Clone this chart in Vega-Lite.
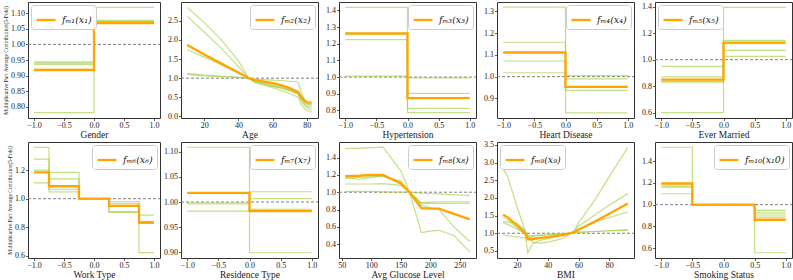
{
  "$schema": "https://vega.github.io/schema/vega-lite/v6.json",
  "background": "white",
  "padding": {"left": 3, "top": 1, "right": 0, "bottom": 0},
  "config": {
    "view": {"stroke": "#333", "strokeWidth": 1},
    "font": "Liberation Serif",
    "axis": {"grid": false, "domain": false, "tickColor": "#333", "tickSize": 2.5, "tickWidth": 0.8,
      "labelFont": "Liberation Serif", "labelFontSize": 8, "labelColor": "#222", "labelPadding": 1,
      "labelOverlap": false, "labelFlush": false,
      "titleFont": "Liberation Serif", "titleFontSize": 9.5, "titleFontWeight": "normal", "titleColor": "#222", "titlePadding": 0},
    "legend": {"symbolType": "stroke", "symbolSize": 361, "symbolStrokeWidth": 2.3,
      "labelFont": "DejaVu Serif", "labelFontStyle": "italic", "labelFontSize": 9.5, "labelColor": "#222",
      "strokeColor": "#cccccc", "fillColor": "rgba(255,255,255,0.85)", "cornerRadius": 3, "padding": 4, "offset": 3, "labelOffset": 5}
  },
  "data": {"values": [
    {"p":1,"f":"mean","x":-1,"y":0.918},{"p":1,"f":"mean","x":0,"y":1.068},{"p":1,"f":"mean","x":1,"y":1.068},
    {"p":1,"f":"g1","x":-1,"y":0.781},{"p":1,"f":"g1","x":0,"y":1.119},{"p":1,"f":"g1","x":1,"y":1.119},
    {"p":1,"f":"g2","x":-1,"y":0.944},{"p":1,"f":"g2","x":0,"y":1.077},{"p":1,"f":"g2","x":1,"y":1.077},
    {"p":1,"f":"g3","x":-1,"y":0.940},{"p":1,"f":"g3","x":0,"y":1.074},{"p":1,"f":"g3","x":1,"y":1.074},
    {"p":1,"f":"g4","x":-1,"y":0.936},{"p":1,"f":"g4","x":0,"y":1.072},{"p":1,"f":"g4","x":1,"y":1.072},
    {"p":1,"f":"g5","x":-1,"y":0.920},{"p":1,"f":"g5","x":0,"y":1.070},{"p":1,"f":"g5","x":1,"y":1.070},

    {"p":2,"f":"mean","x":10,"y":1.87},{"p":2,"f":"mean","x":20,"y":1.62},{"p":2,"f":"mean","x":30,"y":1.38},{"p":2,"f":"mean","x":40,"y":1.15},{"p":2,"f":"mean","x":46,"y":1.0},{"p":2,"f":"mean","x":50,"y":0.95},{"p":2,"f":"mean","x":60,"y":0.87},{"p":2,"f":"mean","x":65,"y":0.82},{"p":2,"f":"mean","x":70,"y":0.74},{"p":2,"f":"mean","x":75,"y":0.64},{"p":2,"f":"mean","x":77,"y":0.5},{"p":2,"f":"mean","x":79,"y":0.4},{"p":2,"f":"mean","x":81,"y":0.36},{"p":2,"f":"mean","x":83,"y":0.36},
    {"p":2,"f":"g1","x":10,"y":2.85},{"p":2,"f":"g1","x":20,"y":2.45},{"p":2,"f":"g1","x":30,"y":2.0},{"p":2,"f":"g1","x":40,"y":1.45},{"p":2,"f":"g1","x":46,"y":1.0},{"p":2,"f":"g1","x":50,"y":0.88},{"p":2,"f":"g1","x":60,"y":0.75},{"p":2,"f":"g1","x":65,"y":0.68},{"p":2,"f":"g1","x":70,"y":0.6},{"p":2,"f":"g1","x":75,"y":0.5},{"p":2,"f":"g1","x":77,"y":0.3},{"p":2,"f":"g1","x":79,"y":0.2},{"p":2,"f":"g1","x":81,"y":0.13},{"p":2,"f":"g1","x":83,"y":0.12},
    {"p":2,"f":"g2","x":10,"y":2.62},{"p":2,"f":"g2","x":20,"y":2.2},{"p":2,"f":"g2","x":30,"y":1.78},{"p":2,"f":"g2","x":40,"y":1.3},{"p":2,"f":"g2","x":46,"y":1.0},{"p":2,"f":"g2","x":50,"y":0.9},{"p":2,"f":"g2","x":60,"y":0.8},{"p":2,"f":"g2","x":65,"y":0.75},{"p":2,"f":"g2","x":70,"y":0.68},{"p":2,"f":"g2","x":75,"y":0.58},{"p":2,"f":"g2","x":77,"y":0.4},{"p":2,"f":"g2","x":79,"y":0.28},{"p":2,"f":"g2","x":81,"y":0.2},{"p":2,"f":"g2","x":83,"y":0.18},
    {"p":2,"f":"g3","x":10,"y":1.75},{"p":2,"f":"g3","x":20,"y":1.55},{"p":2,"f":"g3","x":30,"y":1.35},{"p":2,"f":"g3","x":40,"y":1.13},{"p":2,"f":"g3","x":46,"y":1.0},{"p":2,"f":"g3","x":50,"y":0.93},{"p":2,"f":"g3","x":60,"y":0.82},{"p":2,"f":"g3","x":65,"y":0.78},{"p":2,"f":"g3","x":70,"y":0.7},{"p":2,"f":"g3","x":75,"y":0.6},{"p":2,"f":"g3","x":77,"y":0.45},{"p":2,"f":"g3","x":79,"y":0.32},{"p":2,"f":"g3","x":81,"y":0.25},{"p":2,"f":"g3","x":83,"y":0.24},
    {"p":2,"f":"g4","x":10,"y":1.12},{"p":2,"f":"g4","x":20,"y":1.08},{"p":2,"f":"g4","x":30,"y":1.05},{"p":2,"f":"g4","x":40,"y":1.02},{"p":2,"f":"g4","x":46,"y":1.0},{"p":2,"f":"g4","x":50,"y":0.97},{"p":2,"f":"g4","x":60,"y":0.95},{"p":2,"f":"g4","x":65,"y":0.94},{"p":2,"f":"g4","x":70,"y":0.92},{"p":2,"f":"g4","x":75,"y":0.9},{"p":2,"f":"g4","x":77,"y":0.6},{"p":2,"f":"g4","x":79,"y":0.42},{"p":2,"f":"g4","x":81,"y":0.3},{"p":2,"f":"g4","x":83,"y":0.3},
    {"p":2,"f":"g5","x":10,"y":1.1},{"p":2,"f":"g5","x":20,"y":1.06},{"p":2,"f":"g5","x":30,"y":1.04},{"p":2,"f":"g5","x":40,"y":1.02},{"p":2,"f":"g5","x":46,"y":1.0},{"p":2,"f":"g5","x":50,"y":0.9},{"p":2,"f":"g5","x":60,"y":0.78},{"p":2,"f":"g5","x":65,"y":0.74},{"p":2,"f":"g5","x":70,"y":0.68},{"p":2,"f":"g5","x":75,"y":0.6},{"p":2,"f":"g5","x":77,"y":0.45},{"p":2,"f":"g5","x":79,"y":0.35},{"p":2,"f":"g5","x":81,"y":0.32},{"p":2,"f":"g5","x":83,"y":0.3},

    {"p":3,"f":"mean","x":-1,"y":1.262},{"p":3,"f":"mean","x":0,"y":0.874},{"p":3,"f":"mean","x":1,"y":0.874},
    {"p":3,"f":"g1","x":-1,"y":1.418},{"p":3,"f":"g1","x":0,"y":0.787},{"p":3,"f":"g1","x":1,"y":0.787},
    {"p":3,"f":"g2","x":-1,"y":1.254},{"p":3,"f":"g2","x":0,"y":0.813},{"p":3,"f":"g2","x":1,"y":0.813},
    {"p":3,"f":"g3","x":-1,"y":1.225},{"p":3,"f":"g3","x":0,"y":0.874},{"p":3,"f":"g3","x":1,"y":0.874},
    {"p":3,"f":"g4","x":-1,"y":1.006},{"p":3,"f":"g4","x":0,"y":0.996},{"p":3,"f":"g4","x":1,"y":0.996},
    {"p":3,"f":"g5","x":-1,"y":1.262},{"p":3,"f":"g5","x":0,"y":0.903},{"p":3,"f":"g5","x":1,"y":0.903},

    {"p":4,"f":"mean","x":-1,"y":1.111},{"p":4,"f":"mean","x":0,"y":0.953},{"p":4,"f":"mean","x":1,"y":0.953},
    {"p":4,"f":"g1","x":-1,"y":1.319},{"p":4,"f":"g1","x":0,"y":0.834},{"p":4,"f":"g1","x":1,"y":0.834},
    {"p":4,"f":"g2","x":-1,"y":1.158},{"p":4,"f":"g2","x":0,"y":0.937},{"p":4,"f":"g2","x":1,"y":0.937},
    {"p":4,"f":"g3","x":-1,"y":1.072},{"p":4,"f":"g3","x":0,"y":0.953},{"p":4,"f":"g3","x":1,"y":0.953},
    {"p":4,"f":"g4","x":-1,"y":1.018},{"p":4,"f":"g4","x":0,"y":0.990},{"p":4,"f":"g4","x":1,"y":0.990},
    {"p":4,"f":"g5","x":-1,"y":1.111},{"p":4,"f":"g5","x":0,"y":1.005},{"p":4,"f":"g5","x":1,"y":1.005},

    {"p":5,"f":"mean","x":-1,"y":0.85},{"p":5,"f":"mean","x":0,"y":1.128},{"p":5,"f":"mean","x":1,"y":1.128},
    {"p":5,"f":"g1","x":-1,"y":0.60},{"p":5,"f":"g1","x":0,"y":1.395},{"p":5,"f":"g1","x":1,"y":1.395},
    {"p":5,"f":"g2","x":-1,"y":0.95},{"p":5,"f":"g2","x":0,"y":1.025},{"p":5,"f":"g2","x":1,"y":1.025},
    {"p":5,"f":"g3","x":-1,"y":0.87},{"p":5,"f":"g3","x":0,"y":1.07},{"p":5,"f":"g3","x":1,"y":1.07},
    {"p":5,"f":"g4","x":-1,"y":0.838},{"p":5,"f":"g4","x":0,"y":1.145},{"p":5,"f":"g4","x":1,"y":1.145},
    {"p":5,"f":"g5","x":-1,"y":0.83},{"p":5,"f":"g5","x":0,"y":1.12},{"p":5,"f":"g5","x":1,"y":1.12},

    {"p":6,"f":"mean","x":-1,"y":1.184},{"p":6,"f":"mean","x":-0.75,"y":1.087},{"p":6,"f":"mean","x":-0.25,"y":1.0},{"p":6,"f":"mean","x":0.25,"y":0.95},{"p":6,"f":"mean","x":0.75,"y":0.834},{"p":6,"f":"mean","x":1,"y":0.834},
    {"p":6,"f":"g1","x":-1,"y":1.359},{"p":6,"f":"g1","x":-0.75,"y":1.138},{"p":6,"f":"g1","x":-0.25,"y":1.0},{"p":6,"f":"g1","x":0.25,"y":0.91},{"p":6,"f":"g1","x":0.75,"y":0.623},{"p":6,"f":"g1","x":1,"y":0.623},
    {"p":6,"f":"g2","x":-1,"y":1.276},{"p":6,"f":"g2","x":-0.75,"y":1.184},{"p":6,"f":"g2","x":-0.25,"y":1.0},{"p":6,"f":"g2","x":0.25,"y":0.98},{"p":6,"f":"g2","x":0.75,"y":0.885},{"p":6,"f":"g2","x":1,"y":0.885},
    {"p":6,"f":"g3","x":-1,"y":1.184},{"p":6,"f":"g3","x":-0.75,"y":1.065},{"p":6,"f":"g3","x":-0.25,"y":1.0},{"p":6,"f":"g3","x":0.25,"y":0.966},{"p":6,"f":"g3","x":0.75,"y":0.84},{"p":6,"f":"g3","x":1,"y":0.84},
    {"p":6,"f":"g4","x":-1,"y":1.11},{"p":6,"f":"g4","x":-0.75,"y":1.048},{"p":6,"f":"g4","x":-0.25,"y":1.0},{"p":6,"f":"g4","x":0.25,"y":0.905},{"p":6,"f":"g4","x":0.75,"y":0.828},{"p":6,"f":"g4","x":1,"y":0.828},
    {"p":6,"f":"g5","x":-1,"y":1.2},{"p":6,"f":"g5","x":-0.75,"y":1.09},{"p":6,"f":"g5","x":-0.25,"y":1.0},{"p":6,"f":"g5","x":0.25,"y":0.95},{"p":6,"f":"g5","x":0.75,"y":0.834},{"p":6,"f":"g5","x":1,"y":0.834},

    {"p":7,"f":"mean","x":-1,"y":1.018},{"p":7,"f":"mean","x":0,"y":0.982},{"p":7,"f":"mean","x":1,"y":0.982},
    {"p":7,"f":"g1","x":-1,"y":1.109},{"p":7,"f":"g1","x":0,"y":0.899},{"p":7,"f":"g1","x":1,"y":0.899},
    {"p":7,"f":"g2","x":-1,"y":0.998},{"p":7,"f":"g2","x":0,"y":1.0204},{"p":7,"f":"g2","x":1,"y":1.0204},
    {"p":7,"f":"g3","x":-1,"y":0.996},{"p":7,"f":"g3","x":0,"y":1.0066},{"p":7,"f":"g3","x":1,"y":1.0066},
    {"p":7,"f":"g4","x":-1,"y":0.982},{"p":7,"f":"g4","x":0,"y":0.9855},{"p":7,"f":"g4","x":1,"y":0.9855},
    {"p":7,"f":"g5","x":-1,"y":1.018},{"p":7,"f":"g5","x":0,"y":0.982},{"p":7,"f":"g5","x":1,"y":0.982},

    {"p":8,"f":"mean","x":56,"y":1.185},{"p":8,"f":"mean","x":80,"y":1.19},{"p":8,"f":"mean","x":100,"y":1.2},{"p":8,"f":"mean","x":120,"y":1.2},{"p":8,"f":"mean","x":150,"y":1.1},{"p":8,"f":"mean","x":165,"y":1.0},{"p":8,"f":"mean","x":185,"y":0.817},{"p":8,"f":"mean","x":200,"y":0.81},{"p":8,"f":"mean","x":215,"y":0.81},{"p":8,"f":"mean","x":240,"y":0.75},{"p":8,"f":"mean","x":267,"y":0.687},
    {"p":8,"f":"g1","x":56,"y":1.504},{"p":8,"f":"g1","x":80,"y":1.51},{"p":8,"f":"g1","x":100,"y":1.515},{"p":8,"f":"g1","x":120,"y":1.52},{"p":8,"f":"g1","x":150,"y":1.25},{"p":8,"f":"g1","x":165,"y":1.0},{"p":8,"f":"g1","x":185,"y":0.534},{"p":8,"f":"g1","x":200,"y":0.55},{"p":8,"f":"g1","x":215,"y":0.56},{"p":8,"f":"g1","x":240,"y":0.5},{"p":8,"f":"g1","x":267,"y":0.31},
    {"p":8,"f":"g2","x":56,"y":1.17},{"p":8,"f":"g2","x":80,"y":1.15},{"p":8,"f":"g2","x":100,"y":1.17},{"p":8,"f":"g2","x":120,"y":1.19},{"p":8,"f":"g2","x":150,"y":1.12},{"p":8,"f":"g2","x":165,"y":1.0},{"p":8,"f":"g2","x":185,"y":0.85},{"p":8,"f":"g2","x":200,"y":0.82},{"p":8,"f":"g2","x":215,"y":0.8},{"p":8,"f":"g2","x":240,"y":0.6},{"p":8,"f":"g2","x":267,"y":0.43},
    {"p":8,"f":"g3","x":56,"y":1.095},{"p":8,"f":"g3","x":80,"y":1.095},{"p":8,"f":"g3","x":100,"y":1.095},{"p":8,"f":"g3","x":120,"y":1.1},{"p":8,"f":"g3","x":150,"y":1.08},{"p":8,"f":"g3","x":165,"y":1.0},{"p":8,"f":"g3","x":185,"y":0.87},{"p":8,"f":"g3","x":200,"y":0.87},{"p":8,"f":"g3","x":215,"y":0.87},{"p":8,"f":"g3","x":240,"y":0.87},{"p":8,"f":"g3","x":267,"y":0.87},
    {"p":8,"f":"g4","x":56,"y":1.01},{"p":8,"f":"g4","x":80,"y":1.01},{"p":8,"f":"g4","x":100,"y":1.01},{"p":8,"f":"g4","x":120,"y":1.005},{"p":8,"f":"g4","x":150,"y":1.0},{"p":8,"f":"g4","x":165,"y":1.0},{"p":8,"f":"g4","x":185,"y":0.99},{"p":8,"f":"g4","x":200,"y":0.985},{"p":8,"f":"g4","x":215,"y":0.98},{"p":8,"f":"g4","x":240,"y":0.97},{"p":8,"f":"g4","x":267,"y":0.96},
    {"p":8,"f":"g5","x":56,"y":1.16},{"p":8,"f":"g5","x":80,"y":1.17},{"p":8,"f":"g5","x":100,"y":1.18},{"p":8,"f":"g5","x":120,"y":1.18},{"p":8,"f":"g5","x":150,"y":1.13},{"p":8,"f":"g5","x":165,"y":1.0},{"p":8,"f":"g5","x":185,"y":0.88},{"p":8,"f":"g5","x":200,"y":0.885},{"p":8,"f":"g5","x":215,"y":0.89},{"p":8,"f":"g5","x":240,"y":0.89},{"p":8,"f":"g5","x":267,"y":0.89},

    {"p":9,"f":"mean","x":11,"y":1.52},{"p":9,"f":"mean","x":14,"y":1.45},{"p":9,"f":"mean","x":20,"y":1.22},{"p":9,"f":"mean","x":25,"y":1.02},{"p":9,"f":"mean","x":27,"y":0.83},{"p":9,"f":"mean","x":30,"y":0.83},{"p":9,"f":"mean","x":35,"y":0.87},{"p":9,"f":"mean","x":40,"y":0.89},{"p":9,"f":"mean","x":50,"y":0.95},{"p":9,"f":"mean","x":57,"y":1.02},{"p":9,"f":"mean","x":60,"y":1.1},{"p":9,"f":"mean","x":70,"y":1.32},{"p":9,"f":"mean","x":80,"y":1.55},{"p":9,"f":"mean","x":92,"y":1.84},
    {"p":9,"f":"g1","x":11,"y":2.82},{"p":9,"f":"g1","x":14,"y":2.6},{"p":9,"f":"g1","x":20,"y":1.75},{"p":9,"f":"g1","x":25,"y":1.1},{"p":9,"f":"g1","x":27,"y":0.45},{"p":9,"f":"g1","x":30,"y":0.7},{"p":9,"f":"g1","x":35,"y":0.8},{"p":9,"f":"g1","x":40,"y":0.85},{"p":9,"f":"g1","x":50,"y":0.95},{"p":9,"f":"g1","x":57,"y":1.05},{"p":9,"f":"g1","x":60,"y":1.3},{"p":9,"f":"g1","x":70,"y":1.9},{"p":9,"f":"g1","x":80,"y":2.6},{"p":9,"f":"g1","x":92,"y":3.43},
    {"p":9,"f":"g2","x":11,"y":1.33},{"p":9,"f":"g2","x":14,"y":1.32},{"p":9,"f":"g2","x":20,"y":1.28},{"p":9,"f":"g2","x":25,"y":1.1},{"p":9,"f":"g2","x":27,"y":0.95},{"p":9,"f":"g2","x":30,"y":0.75},{"p":9,"f":"g2","x":35,"y":0.72},{"p":9,"f":"g2","x":40,"y":0.75},{"p":9,"f":"g2","x":50,"y":0.85},{"p":9,"f":"g2","x":57,"y":1.05},{"p":9,"f":"g2","x":60,"y":1.2},{"p":9,"f":"g2","x":70,"y":1.5},{"p":9,"f":"g2","x":80,"y":1.8},{"p":9,"f":"g2","x":92,"y":2.12},
    {"p":9,"f":"g3","x":11,"y":0.95},{"p":9,"f":"g3","x":14,"y":0.93},{"p":9,"f":"g3","x":20,"y":0.9},{"p":9,"f":"g3","x":25,"y":0.86},{"p":9,"f":"g3","x":27,"y":0.86},{"p":9,"f":"g3","x":30,"y":0.92},{"p":9,"f":"g3","x":35,"y":0.95},{"p":9,"f":"g3","x":40,"y":0.97},{"p":9,"f":"g3","x":50,"y":0.99},{"p":9,"f":"g3","x":57,"y":1.0},{"p":9,"f":"g3","x":60,"y":1.02},{"p":9,"f":"g3","x":70,"y":1.05},{"p":9,"f":"g3","x":80,"y":1.07},{"p":9,"f":"g3","x":92,"y":1.1},
    {"p":9,"f":"g4","x":11,"y":1.45},{"p":9,"f":"g4","x":14,"y":1.38},{"p":9,"f":"g4","x":20,"y":1.15},{"p":9,"f":"g4","x":25,"y":1.0},{"p":9,"f":"g4","x":27,"y":0.9},{"p":9,"f":"g4","x":30,"y":0.88},{"p":9,"f":"g4","x":35,"y":0.86},{"p":9,"f":"g4","x":40,"y":0.87},{"p":9,"f":"g4","x":50,"y":0.95},{"p":9,"f":"g4","x":57,"y":1.05},{"p":9,"f":"g4","x":60,"y":1.12},{"p":9,"f":"g4","x":70,"y":1.3},{"p":9,"f":"g4","x":80,"y":1.45},{"p":9,"f":"g4","x":92,"y":1.6},
    {"p":9,"f":"g5","x":11,"y":1.3},{"p":9,"f":"g5","x":14,"y":1.25},{"p":9,"f":"g5","x":20,"y":1.12},{"p":9,"f":"g5","x":25,"y":1.0},{"p":9,"f":"g5","x":27,"y":0.95},{"p":9,"f":"g5","x":30,"y":0.93},{"p":9,"f":"g5","x":35,"y":0.94},{"p":9,"f":"g5","x":40,"y":0.95},{"p":9,"f":"g5","x":50,"y":0.98},{"p":9,"f":"g5","x":57,"y":1.03},{"p":9,"f":"g5","x":60,"y":1.04},{"p":9,"f":"g5","x":70,"y":1.05},{"p":9,"f":"g5","x":80,"y":1.07},{"p":9,"f":"g5","x":92,"y":1.08},

    {"p":10,"f":"mean","x":-1,"y":1.194},{"p":10,"f":"mean","x":-0.5,"y":1.0},{"p":10,"f":"mean","x":0.5,"y":0.861},{"p":10,"f":"mean","x":1,"y":0.861},
    {"p":10,"f":"g1","x":-1,"y":1.527},{"p":10,"f":"g1","x":-0.5,"y":1.0},{"p":10,"f":"g1","x":0.5,"y":0.558},{"p":10,"f":"g1","x":1,"y":0.558},
    {"p":10,"f":"g2","x":-1,"y":1.17},{"p":10,"f":"g2","x":-0.5,"y":1.0},{"p":10,"f":"g2","x":0.5,"y":0.948},{"p":10,"f":"g2","x":1,"y":0.948},
    {"p":10,"f":"g3","x":-1,"y":1.16},{"p":10,"f":"g3","x":-0.5,"y":1.0},{"p":10,"f":"g3","x":0.5,"y":0.925},{"p":10,"f":"g3","x":1,"y":0.925},
    {"p":10,"f":"g4","x":-1,"y":1.10},{"p":10,"f":"g4","x":-0.5,"y":1.0},{"p":10,"f":"g4","x":0.5,"y":0.905},{"p":10,"f":"g4","x":1,"y":0.905},
    {"p":10,"f":"g5","x":-1,"y":1.19},{"p":10,"f":"g5","x":-0.5,"y":1.0},{"p":10,"f":"g5","x":0.5,"y":0.885},{"p":10,"f":"g5","x":1,"y":0.885}
  ]},
  "columns": 5,
  "spacing": {"row": 24, "column": 21},
  "bounds": "flush",
  "resolve": {"scale": {"color": "independent", "x": "independent", "y": "independent"}, "legend": {"color": "independent"}},
  "concat": [
    {"width": 132, "height": 116, "transform": [{"filter": "datum.p == 1"}],
     "encoding": {"x": {"field": "x", "type": "quantitative", "scale": {"domain": [-1.1, 1.1], "nice": false, "zero": false}, "axis": {"values": [-1, -0.5, 0, 0.5, 1], "format": ".1f", "title": "Gender"}},
        "y": {"field": "y", "type": "quantitative", "scale": {"domain": [0.764, 1.136], "nice": false, "zero": false}, "axis": {"values": [0.8, 0.85, 0.9, 0.95, 1.0, 1.05, 1.1], "format": ".2f", "title": "Multiplicative Part Average Contribution(5-Fold)", "titleFontSize": 5.5, "titlePadding": 2}}},
     "layer": [
      {"transform": [{"filter": "datum.f == 'mean' && datum.x == 1"}], "mark": {"type": "rule", "color": "#808080", "strokeDash": [3, 2], "strokeWidth": 1}, "encoding": {"x": {"value": 0}, "x2": {"value": "width"}, "y": {"datum": 1}}},
      {"transform": [{"filter": "datum.f != 'mean'"}], "mark": {"type": "line", "interpolate": "step-after", "color": "#9ACD32", "opacity": 0.6, "strokeWidth": 1.2}, "encoding": {"detail": {"field": "f"}}},
      {"transform": [{"filter": "datum.f == 'mean'"}], "mark": {"type": "line", "interpolate": "step-after", "strokeWidth": 2.3},
       "encoding": {"color": {"datum": "fₘ₁(x₁)", "scale": {"range": ["#FFA500"]}, "legend": {"title": null, "orient": "top-left"}}}}
     ]},
    {"width": 137, "height": 116, "transform": [{"filter": "datum.p == 2"}],
     "encoding": {"x": {"field": "x", "type": "quantitative", "scale": {"domain": [6.35, 86.65], "nice": false, "zero": false}, "axis": {"values": [20, 40, 60, 80], "format": "d", "title": "Age"}},
        "y": {"field": "y", "type": "quantitative", "scale": {"domain": [-0.04, 2.99], "nice": false, "zero": false}, "axis": {"values": [0, 0.5, 1, 1.5, 2, 2.5], "format": ".1f", "title": null}}},
     "layer": [
      {"transform": [{"filter": "datum.f == 'mean' && datum.x == 83"}], "mark": {"type": "rule", "color": "#808080", "strokeDash": [3, 2], "strokeWidth": 1}, "encoding": {"x": {"value": 0}, "x2": {"value": "width"}, "y": {"datum": 1}}},
      {"transform": [{"filter": "datum.f != 'mean'"}], "mark": {"type": "line", "color": "#9ACD32", "opacity": 0.6, "strokeWidth": 1.2}, "encoding": {"detail": {"field": "f"}}},
      {"transform": [{"filter": "datum.f == 'mean'"}], "mark": {"type": "line", "strokeWidth": 2.3},
       "encoding": {"color": {"datum": "fₘ₂(x₂)", "scale": {"range": ["#FFA500"]}, "legend": {"title": null, "orient": "top-right"}}}}
     ]},
    {"width": 137, "height": 116, "transform": [{"filter": "datum.p == 3"}],
     "encoding": {"x": {"field": "x", "type": "quantitative", "scale": {"domain": [-1.1, 1.1], "nice": false, "zero": false}, "axis": {"values": [-1, -0.5, 0, 0.5, 1], "format": ".1f", "title": "Hypertension"}},
        "y": {"field": "y", "type": "quantitative", "scale": {"domain": [0.755, 1.45], "nice": false, "zero": false}, "axis": {"values": [0.8, 0.9, 1.0, 1.1, 1.2, 1.3, 1.4], "format": ".1f", "title": null}}},
     "layer": [
      {"transform": [{"filter": "datum.f == 'mean' && datum.x == 1"}], "mark": {"type": "rule", "color": "#808080", "strokeDash": [3, 2], "strokeWidth": 1}, "encoding": {"x": {"value": 0}, "x2": {"value": "width"}, "y": {"datum": 1}}},
      {"transform": [{"filter": "datum.f != 'mean'"}], "mark": {"type": "line", "interpolate": "step-after", "color": "#9ACD32", "opacity": 0.6, "strokeWidth": 1.2}, "encoding": {"detail": {"field": "f"}}},
      {"transform": [{"filter": "datum.f == 'mean'"}], "mark": {"type": "line", "interpolate": "step-after", "strokeWidth": 2.3},
       "encoding": {"color": {"datum": "fₘ₃(x₃)", "scale": {"range": ["#FFA500"]}, "legend": {"title": null, "orient": "top-right"}}}}
     ]},
    {"width": 137, "height": 116, "transform": [{"filter": "datum.p == 4"}],
     "encoding": {"x": {"field": "x", "type": "quantitative", "scale": {"domain": [-1.1, 1.1], "nice": false, "zero": false}, "axis": {"values": [-1, -0.5, 0, 0.5, 1], "format": ".1f", "title": "Heart Disease"}},
        "y": {"field": "y", "type": "quantitative", "scale": {"domain": [0.81, 1.343], "nice": false, "zero": false}, "axis": {"values": [0.9, 1.0, 1.1, 1.2, 1.3], "format": ".1f", "title": null}}},
     "layer": [
      {"transform": [{"filter": "datum.f == 'mean' && datum.x == 1"}], "mark": {"type": "rule", "color": "#808080", "strokeDash": [3, 2], "strokeWidth": 1}, "encoding": {"x": {"value": 0}, "x2": {"value": "width"}, "y": {"datum": 1}}},
      {"transform": [{"filter": "datum.f != 'mean'"}], "mark": {"type": "line", "interpolate": "step-after", "color": "#9ACD32", "opacity": 0.6, "strokeWidth": 1.2}, "encoding": {"detail": {"field": "f"}}},
      {"transform": [{"filter": "datum.f == 'mean'"}], "mark": {"type": "line", "interpolate": "step-after", "strokeWidth": 2.3},
       "encoding": {"color": {"datum": "fₘ₄(x₄)", "scale": {"range": ["#FFA500"]}, "legend": {"title": null, "orient": "top-right"}}}}
     ]},
    {"width": 137, "height": 116, "transform": [{"filter": "datum.p == 5"}],
     "encoding": {"x": {"field": "x", "type": "quantitative", "scale": {"domain": [-1.1, 1.1], "nice": false, "zero": false}, "axis": {"values": [-1, -0.5, 0, 0.5, 1], "format": ".1f", "title": "Ever Married"}},
        "y": {"field": "y", "type": "quantitative", "scale": {"domain": [0.56, 1.435], "nice": false, "zero": false}, "axis": {"values": [0.6, 0.8, 1.0, 1.2, 1.4], "format": ".1f", "title": null}}},
     "layer": [
      {"transform": [{"filter": "datum.f == 'mean' && datum.x == 1"}], "mark": {"type": "rule", "color": "#808080", "strokeDash": [3, 2], "strokeWidth": 1}, "encoding": {"x": {"value": 0}, "x2": {"value": "width"}, "y": {"datum": 1}}},
      {"transform": [{"filter": "datum.f != 'mean'"}], "mark": {"type": "line", "interpolate": "step-after", "color": "#9ACD32", "opacity": 0.6, "strokeWidth": 1.2}, "encoding": {"detail": {"field": "f"}}},
      {"transform": [{"filter": "datum.f == 'mean'"}], "mark": {"type": "line", "interpolate": "step-after", "strokeWidth": 2.3},
       "encoding": {"color": {"datum": "fₘ₅(x₅)", "scale": {"range": ["#FFA500"]}, "legend": {"title": null, "orient": "top-left"}}}}
     ]},
    {"width": 132, "height": 116, "transform": [{"filter": "datum.p == 6"}],
     "encoding": {"x": {"field": "x", "type": "quantitative", "scale": {"domain": [-1.1, 1.1], "nice": false, "zero": false}, "axis": {"values": [-1, -0.5, 0, 0.5, 1], "format": ".1f", "title": "Work Type"}},
        "y": {"field": "y", "type": "quantitative", "scale": {"domain": [0.586, 1.396], "nice": false, "zero": false}, "axis": {"values": [0.6, 0.8, 1.0, 1.2], "format": ".1f", "title": "Multiplicative Part Average Contribution(5-Fold)", "titleFontSize": 5.5, "titlePadding": 2}}},
     "layer": [
      {"transform": [{"filter": "datum.f == 'mean' && datum.x == 1"}], "mark": {"type": "rule", "color": "#808080", "strokeDash": [3, 2], "strokeWidth": 1}, "encoding": {"x": {"value": 0}, "x2": {"value": "width"}, "y": {"datum": 1}}},
      {"transform": [{"filter": "datum.f != 'mean'"}], "mark": {"type": "line", "interpolate": "step-after", "color": "#9ACD32", "opacity": 0.6, "strokeWidth": 1.2}, "encoding": {"detail": {"field": "f"}}},
      {"transform": [{"filter": "datum.f == 'mean'"}], "mark": {"type": "line", "interpolate": "step-after", "strokeWidth": 2.3},
       "encoding": {"color": {"datum": "fₘ₆(x₆)", "scale": {"range": ["#FFA500"]}, "legend": {"title": null, "orient": "top-right"}}}}
     ]},
    {"width": 137, "height": 116, "transform": [{"filter": "datum.p == 7"}],
     "encoding": {"x": {"field": "x", "type": "quantitative", "scale": {"domain": [-1.1, 1.1], "nice": false, "zero": false}, "axis": {"values": [-1, -0.5, 0, 0.5, 1], "format": ".1f", "title": "Residence Type"}},
        "y": {"field": "y", "type": "quantitative", "scale": {"domain": [0.8885, 1.1195], "nice": false, "zero": false}, "axis": {"values": [0.9, 0.95, 1.0, 1.05, 1.1], "format": ".2f", "title": null}}},
     "layer": [
      {"transform": [{"filter": "datum.f == 'mean' && datum.x == 1"}], "mark": {"type": "rule", "color": "#808080", "strokeDash": [3, 2], "strokeWidth": 1}, "encoding": {"x": {"value": 0}, "x2": {"value": "width"}, "y": {"datum": 1}}},
      {"transform": [{"filter": "datum.f != 'mean'"}], "mark": {"type": "line", "interpolate": "step-after", "color": "#9ACD32", "opacity": 0.6, "strokeWidth": 1.2}, "encoding": {"detail": {"field": "f"}}},
      {"transform": [{"filter": "datum.f == 'mean'"}], "mark": {"type": "line", "interpolate": "step-after", "strokeWidth": 2.3},
       "encoding": {"color": {"datum": "fₘ₇(x₇)", "scale": {"range": ["#FFA500"]}, "legend": {"title": null, "orient": "top-right"}}}}
     ]},
    {"width": 137, "height": 116, "transform": [{"filter": "datum.p == 8"}],
     "encoding": {"x": {"field": "x", "type": "quantitative", "scale": {"domain": [45.5, 277.5], "nice": false, "zero": false}, "axis": {"values": [50, 100, 150, 200, 250], "format": "d", "title": "Avg Glucose Level"}},
        "y": {"field": "y", "type": "quantitative", "scale": {"domain": [0.24, 1.58], "nice": false, "zero": false}, "axis": {"values": [0.4, 0.6, 0.8, 1.0, 1.2, 1.4], "format": ".1f", "title": null}}},
     "layer": [
      {"transform": [{"filter": "datum.f == 'mean' && datum.x == 267"}], "mark": {"type": "rule", "color": "#808080", "strokeDash": [3, 2], "strokeWidth": 1}, "encoding": {"x": {"value": 0}, "x2": {"value": "width"}, "y": {"datum": 1}}},
      {"transform": [{"filter": "datum.f != 'mean'"}], "mark": {"type": "line", "color": "#9ACD32", "opacity": 0.6, "strokeWidth": 1.2}, "encoding": {"detail": {"field": "f"}}},
      {"transform": [{"filter": "datum.f == 'mean'"}], "mark": {"type": "line", "strokeWidth": 2.3},
       "encoding": {"color": {"datum": "fₘ₈(x₈)", "scale": {"range": ["#FFA500"]}, "legend": {"title": null, "orient": "top-right"}}}}
     ]},
    {"width": 137, "height": 116, "transform": [{"filter": "datum.p == 9"}],
     "encoding": {"x": {"field": "x", "type": "quantitative", "scale": {"domain": [7, 96], "nice": false, "zero": false}, "axis": {"values": [20, 40, 60, 80], "format": "d", "title": "BMI"}},
        "y": {"field": "y", "type": "quantitative", "scale": {"domain": [0.3, 3.58], "nice": false, "zero": false}, "axis": {"values": [0.5, 1.0, 1.5, 2.0, 2.5, 3.0, 3.5], "format": ".1f", "title": null}}},
     "layer": [
      {"transform": [{"filter": "datum.f == 'mean' && datum.x == 92"}], "mark": {"type": "rule", "color": "#808080", "strokeDash": [3, 2], "strokeWidth": 1}, "encoding": {"x": {"value": 0}, "x2": {"value": "width"}, "y": {"datum": 1}}},
      {"transform": [{"filter": "datum.f != 'mean'"}], "mark": {"type": "line", "color": "#9ACD32", "opacity": 0.6, "strokeWidth": 1.2}, "encoding": {"detail": {"field": "f"}}},
      {"transform": [{"filter": "datum.f == 'mean'"}], "mark": {"type": "line", "strokeWidth": 2.3},
       "encoding": {"color": {"datum": "fₘ₉(x₉)", "scale": {"range": ["#FFA500"]}, "legend": {"title": null, "orient": "top-left"}}}}
     ]},
    {"width": 137, "height": 116, "transform": [{"filter": "datum.p == 10"}],
     "encoding": {"x": {"field": "x", "type": "quantitative", "scale": {"domain": [-1.1, 1.1], "nice": false, "zero": false}, "axis": {"values": [-1, -0.5, 0, 0.5, 1], "format": ".1f", "title": "Smoking Status"}},
        "y": {"field": "y", "type": "quantitative", "scale": {"domain": [0.51, 1.575], "nice": false, "zero": false}, "axis": {"values": [0.6, 0.8, 1.0, 1.2, 1.4], "format": ".1f", "title": null}}},
     "layer": [
      {"transform": [{"filter": "datum.f == 'mean' && datum.x == 1"}], "mark": {"type": "rule", "color": "#808080", "strokeDash": [3, 2], "strokeWidth": 1}, "encoding": {"x": {"value": 0}, "x2": {"value": "width"}, "y": {"datum": 1}}},
      {"transform": [{"filter": "datum.f != 'mean'"}], "mark": {"type": "line", "interpolate": "step-after", "color": "#9ACD32", "opacity": 0.6, "strokeWidth": 1.2}, "encoding": {"detail": {"field": "f"}}},
      {"transform": [{"filter": "datum.f == 'mean'"}], "mark": {"type": "line", "interpolate": "step-after", "strokeWidth": 2.3},
       "encoding": {"color": {"datum": "fₘ₁₀(x₁0)", "scale": {"range": ["#FFA500"]}, "legend": {"title": null, "orient": "top-right"}}}}
     ]}
  ]
}
